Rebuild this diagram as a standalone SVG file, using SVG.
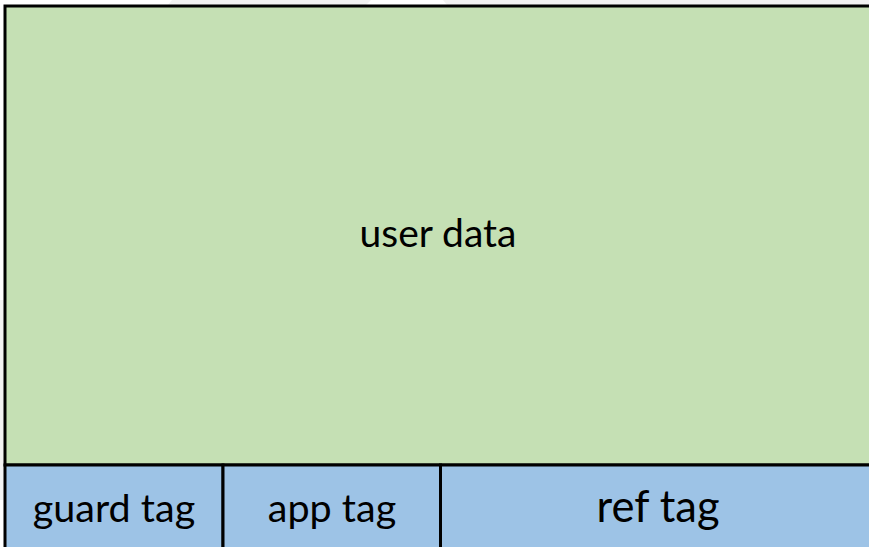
<svg xmlns="http://www.w3.org/2000/svg" width="869" height="547" viewBox="0 0 869 547">
  <style>
    .cell { stroke: #000000; stroke-width: 3; }
    .data { fill: #c5e0b4; }
    .tag { fill: #9dc3e6; }
    .label { font-family: "Lato", "Open Sans", "Liberation Sans", sans-serif; fill: #000000; text-anchor: middle; }
    .bg { fill: #f2f2f2; }
  </style>
  <rect x="0" y="0" width="869" height="547" fill="#ffffff"/>
  <!-- faint backdrop edges peeking out around the frame -->
  <g id="backdrop">
    <polygon class="bg" points="168,5 172,0 869,0 869,5 447,5 443,0 371,0 366,5"/>
    <rect class="bg" x="0" y="300" width="4" height="200"/>
  </g>
  <g id="user-data">
    <rect class="cell data" x="5" y="6" width="870" height="459"/>
    <text class="label" x="438" y="247" font-size="39">user data</text>
  </g>
  <g id="guard-tag">
    <rect class="cell tag" x="5" y="465" width="218" height="90"/>
    <text class="label" x="114" y="522" font-size="39.5">guard tag</text>
  </g>
  <g id="app-tag">
    <rect class="cell tag" x="223" y="465" width="217.5" height="90"/>
    <text class="label" x="332" y="522" font-size="39.5">app tag</text>
  </g>
  <g id="ref-tag">
    <rect class="cell tag" x="440.5" y="465" width="434" height="90"/>
    <text class="label" x="658" y="522" font-size="43.5">ref tag</text>
  </g>
</svg>
